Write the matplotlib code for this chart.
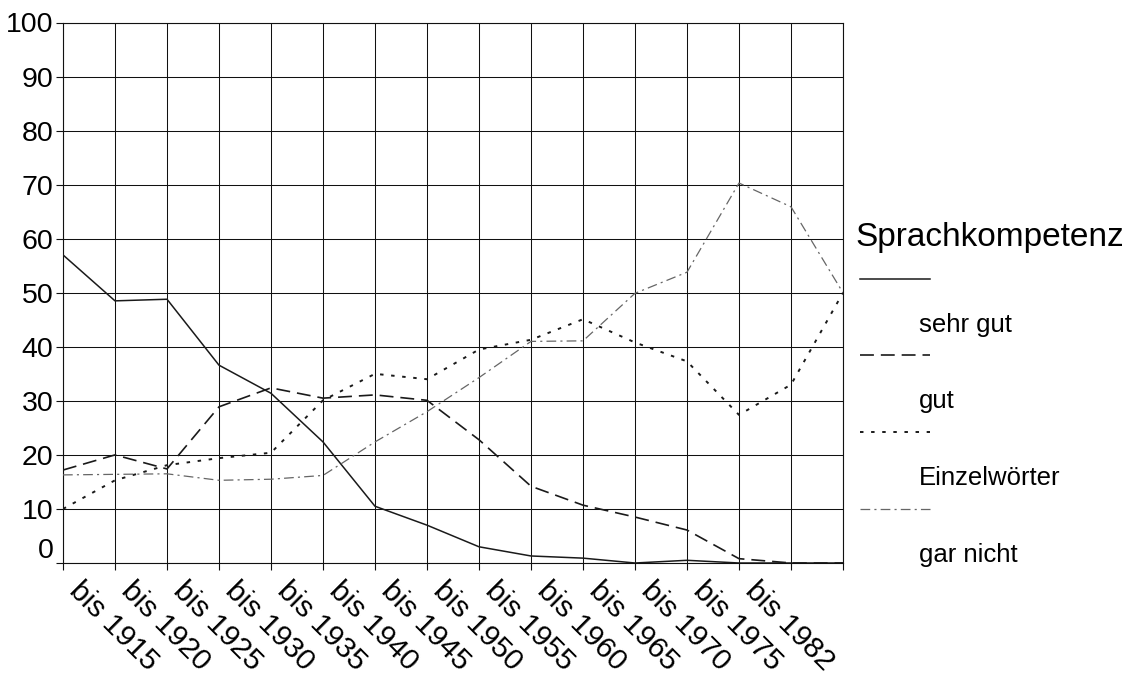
import matplotlib
matplotlib.use("Agg")
import matplotlib.pyplot as plt
from matplotlib.lines import Line2D
from matplotlib.transforms import ScaledTranslation
import numpy as np

plt.rcParams["font.family"] = ["Liberation Sans", "DejaVu Sans"]
plt.rcParams["lines.scale_dashes"] = False

# category labels (only the first 14 of the 16 positions are labelled)
periods = ["bis 1915", "bis 1920", "bis 1925", "bis 1930", "bis 1935",
           "bis 1940", "bis 1945", "bis 1950", "bis 1955", "bis 1960",
           "bis 1965", "bis 1970", "bis 1975", "bis 1982"]

# shares in percent
sehr_gut = [57.0, 48.5, 48.8, 36.6, 31.4, 22.4, 10.5, 7.0,
            3.0, 1.3, 0.9, 0.0, 0.5, 0.0, 0.0, 0.0]
gut = [17.2, 20.0, 17.4, 28.9, 32.4, 30.5, 31.1, 30.1,
       22.8, 14.2, 10.7, 8.5, 6.1, 0.8, 0.0, 0.0]
einzelwoerter = [10.0, 15.3, 18.1, 19.4, 20.4, 30.1, 35.0, 34.0,
                 39.5, 41.3, 45.1, 40.8, 37.3, 27.4, 33.0, 50.0]
gar_nicht = [16.3, 16.4, 16.5, 15.3, 15.5, 16.2, 22.4, 28.0,
             34.3, 41.0, 41.1, 49.9, 53.8, 70.3, 65.9, 50.0]

series_names = ["sehr gut", "gut", "Einzelwörter", "gar nicht"]
series_vals = [sehr_gut, gut, einzelwoerter, gar_nicht]

styles = {
    "sehr gut": dict(color="#1a1a1a", linewidth=1.1, linestyle="-"),
    "gut": dict(color="#1a1a1a", linewidth=1.2, linestyle=(0, (10, 5))),
    "Einzelwörter": dict(color="#1a1a1a", linewidth=1.4, linestyle=(0, (2.5, 5.5))),
    "gar nicht": dict(color="#666666", linewidth=0.9, linestyle=(0, (7, 3, 1.5, 3))),
}

W, H = 1137, 684
fig = plt.figure(figsize=(W / 100, H / 100), dpi=100)
ax = fig.add_axes([63 / W, 1 - 563 / H, 780 / W, 540.5 / H])

x = np.arange(len(sehr_gut))
for name, vals in zip(series_names, series_vals):
    ax.plot(x, vals, **styles[name], zorder=3)

ax.set_xlim(0, len(sehr_gut) - 1)
ax.set_ylim(0, 100)
ax.set_yticks(np.arange(0, 101, 10))
ax.set_xticks(x)
ax.set_xticklabels(periods + [""] * (len(x) - len(periods)),
                   rotation=-45, ha="left", va="top",
                   rotation_mode="anchor", fontsize=21.5)
ax.tick_params(axis="both", direction="out", length=5, width=0.8,
               color="#111111", pad=2)
ax.tick_params(axis="y", labelsize=20.5)

ax.grid(True, color="#111111", linewidth=0.75)
ax.set_axisbelow(True)
for sp in ax.spines.values():
    sp.set_color("#111111")
    sp.set_linewidth(0.8)

# nudge labels like the original
for lab in ax.get_xticklabels():
    lab.set_transform(lab.get_transform() +
                      ScaledTranslation(21 / 100, -4 / 100, fig.dpi_scale_trans))
zero = ax.get_yticklabels()[0]
zero.set_transform(zero.get_transform() +
                   ScaledTranslation(0, 15 / 100, fig.dpi_scale_trans))

# legend: line sample above, label below-right
fig.text(855 / W, 1 - 246 / H, "Sprachkompetenz", fontsize=24,
         ha="left", va="baseline")
line_y = [279, 355, 432, 509]
for name, y in zip(series_names, line_y):
    fig.add_artist(Line2D([860 / W, 930 / W], [1 - y / H, 1 - y / H],
                          transform=fig.transFigure, **styles[name]))
    fig.text(919 / W, 1 - (y + 53) / H, name, fontsize=18.5,
             ha="left", va="baseline")

fig.savefig("out.png", dpi=100)
